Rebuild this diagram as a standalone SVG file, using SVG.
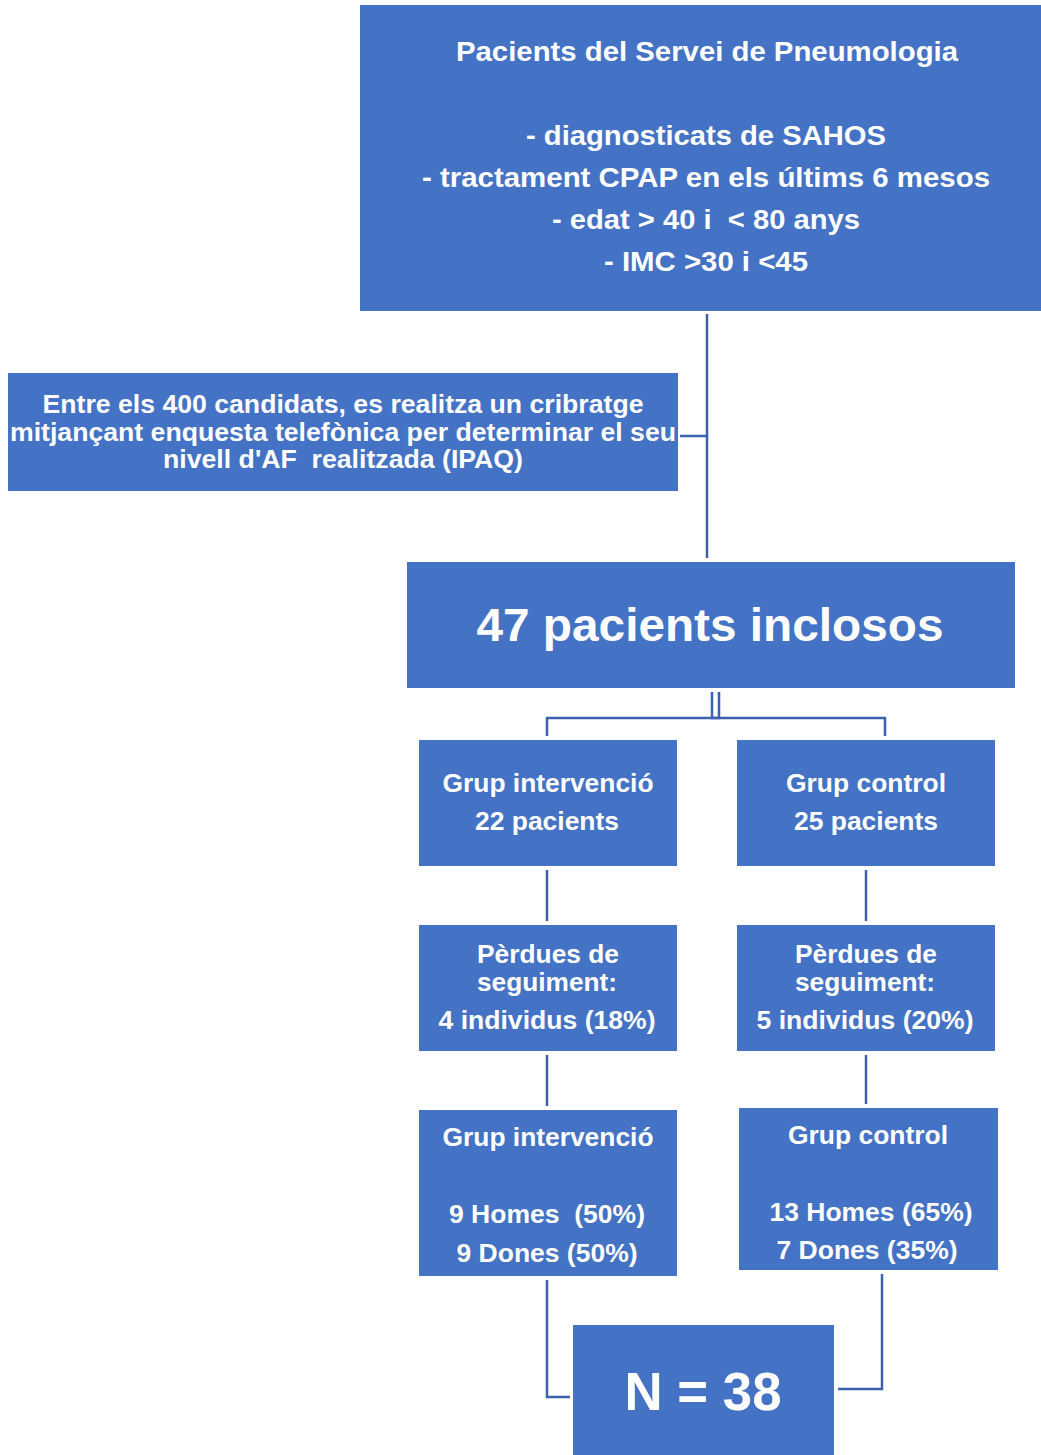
<svg xmlns="http://www.w3.org/2000/svg" width="1041" height="1455" viewBox="0 0 1041 1455">
<style>
.box{fill:#4472C4;}
.t{font-family:"Liberation Sans",Arial,sans-serif;font-weight:bold;fill:#fff;text-anchor:middle;white-space:pre;}
.c{stroke:#3A62AE;fill:none;stroke-width:2.5;}
</style>
<rect width="1041" height="1455" fill="#fff"/>
<g id="connectors">
<line class="c" x1="707" y1="314" x2="707" y2="437" stroke-width="3"/>
<line class="c" x1="707" y1="436" x2="707" y2="558"/>
<line class="c" x1="680" y1="436" x2="707" y2="436"/>
<polyline class="c" points="712,692 712,718 719,718 719,692"/>
<polyline class="c" points="547,736 547,718 885,718 885,736"/>
<line class="c" x1="547" y1="870" x2="547" y2="921"/>
<line class="c" x1="866" y1="870" x2="866" y2="921"/>
<line class="c" x1="547" y1="1055" x2="547" y2="1106"/>
<line class="c" x1="866" y1="1055" x2="866" y2="1104"/>
<polyline class="c" points="547,1280 547,1397 570,1397"/>
<polyline class="c" points="882,1274 882,1389 838,1389"/>
</g>
<g id="n-top">
<rect class="box" x="360" y="5" width="681" height="306"/>
<text class="t" font-size="28" x="707" y="61" textLength="502" lengthAdjust="spacingAndGlyphs">Pacients del Servei de Pneumologia</text>
<text class="t" font-size="28" x="706" y="145" textLength="360" lengthAdjust="spacingAndGlyphs">- diagnosticats de SAHOS</text>
<text class="t" font-size="28" x="706" y="187" textLength="568" lengthAdjust="spacingAndGlyphs">- tractament CPAP en els últims 6 mesos</text>
<text class="t" font-size="28" x="706" y="229" textLength="308" lengthAdjust="spacingAndGlyphs" xml:space="preserve">- edat &gt; 40 i  &lt; 80 anys</text>
<text class="t" font-size="28" x="706" y="271" textLength="204" lengthAdjust="spacingAndGlyphs">- IMC &gt;30 i &lt;45</text>
</g>
<g id="n-screen">
<rect class="box" x="8" y="373" width="670" height="118"/>
<text class="t" font-size="25" x="343" y="413" textLength="601" lengthAdjust="spacingAndGlyphs">Entre els 400 candidats, es realitza un cribratge</text>
<text class="t" font-size="25" x="343" y="441" textLength="666" lengthAdjust="spacingAndGlyphs">mitjançant enquesta telefònica per determinar el seu</text>
<text class="t" font-size="25" x="343" y="468" textLength="360" lengthAdjust="spacingAndGlyphs" xml:space="preserve">nivell d'AF  realitzada (IPAQ)</text>
</g>
<g id="n-47">
<rect class="box" x="407" y="562" width="608" height="126"/>
<text class="t" font-size="47" x="710" y="641" textLength="467" lengthAdjust="spacingAndGlyphs">47 pacients inclosos</text>
</g>
<g id="n-gi">
<rect class="box" x="419" y="740" width="258" height="126"/>
<text class="t" font-size="26" x="548" y="792" textLength="211" lengthAdjust="spacingAndGlyphs">Grup intervenció</text>
<text class="t" font-size="26" x="547" y="830" textLength="144" lengthAdjust="spacingAndGlyphs">22 pacients</text>
</g>
<g id="n-gc">
<rect class="box" x="737" y="740" width="258" height="126"/>
<text class="t" font-size="26" x="866" y="792" textLength="160" lengthAdjust="spacingAndGlyphs">Grup control</text>
<text class="t" font-size="26" x="866" y="830" textLength="144" lengthAdjust="spacingAndGlyphs">25 pacients</text>
</g>
<g id="n-pi">
<rect class="box" x="419" y="925" width="258" height="126"/>
<text class="t" font-size="26" x="548" y="963" textLength="142" lengthAdjust="spacingAndGlyphs">Pèrdues de</text>
<text class="t" font-size="26" x="547" y="991" textLength="140" lengthAdjust="spacingAndGlyphs">seguiment:</text>
<text class="t" font-size="26" x="547" y="1029" textLength="217" lengthAdjust="spacingAndGlyphs">4 individus (18%)</text>
</g>
<g id="n-pc">
<rect class="box" x="737" y="925" width="258" height="126"/>
<text class="t" font-size="26" x="866" y="963" textLength="142" lengthAdjust="spacingAndGlyphs">Pèrdues de</text>
<text class="t" font-size="26" x="865" y="991" textLength="140" lengthAdjust="spacingAndGlyphs">seguiment:</text>
<text class="t" font-size="26" x="865" y="1029" textLength="217" lengthAdjust="spacingAndGlyphs">5 individus (20%)</text>
</g>
<g id="n-gi2">
<rect class="box" x="419" y="1110" width="258" height="166"/>
<text class="t" font-size="26" x="548" y="1146" textLength="211" lengthAdjust="spacingAndGlyphs">Grup intervenció</text>
<text class="t" font-size="26" x="547" y="1223" textLength="196" lengthAdjust="spacingAndGlyphs" xml:space="preserve">9 Homes  (50%)</text>
<text class="t" font-size="26" x="547" y="1262" textLength="181" lengthAdjust="spacingAndGlyphs">9 Dones (50%)</text>
</g>
<g id="n-gc2">
<rect class="box" x="739" y="1108" width="259" height="162"/>
<text class="t" font-size="26" x="868" y="1144" textLength="160" lengthAdjust="spacingAndGlyphs">Grup control</text>
<text class="t" font-size="26" x="871" y="1221" textLength="203" lengthAdjust="spacingAndGlyphs">13 Homes (65%)</text>
<text class="t" font-size="26" x="867" y="1259" textLength="181" lengthAdjust="spacingAndGlyphs">7 Dones (35%)</text>
</g>
<g id="n-n38">
<rect class="box" x="573" y="1325" width="261" height="130"/>
<text class="t" font-size="53" x="703" y="1410" textLength="157" lengthAdjust="spacingAndGlyphs">N = 38</text>
</g>
</svg>
